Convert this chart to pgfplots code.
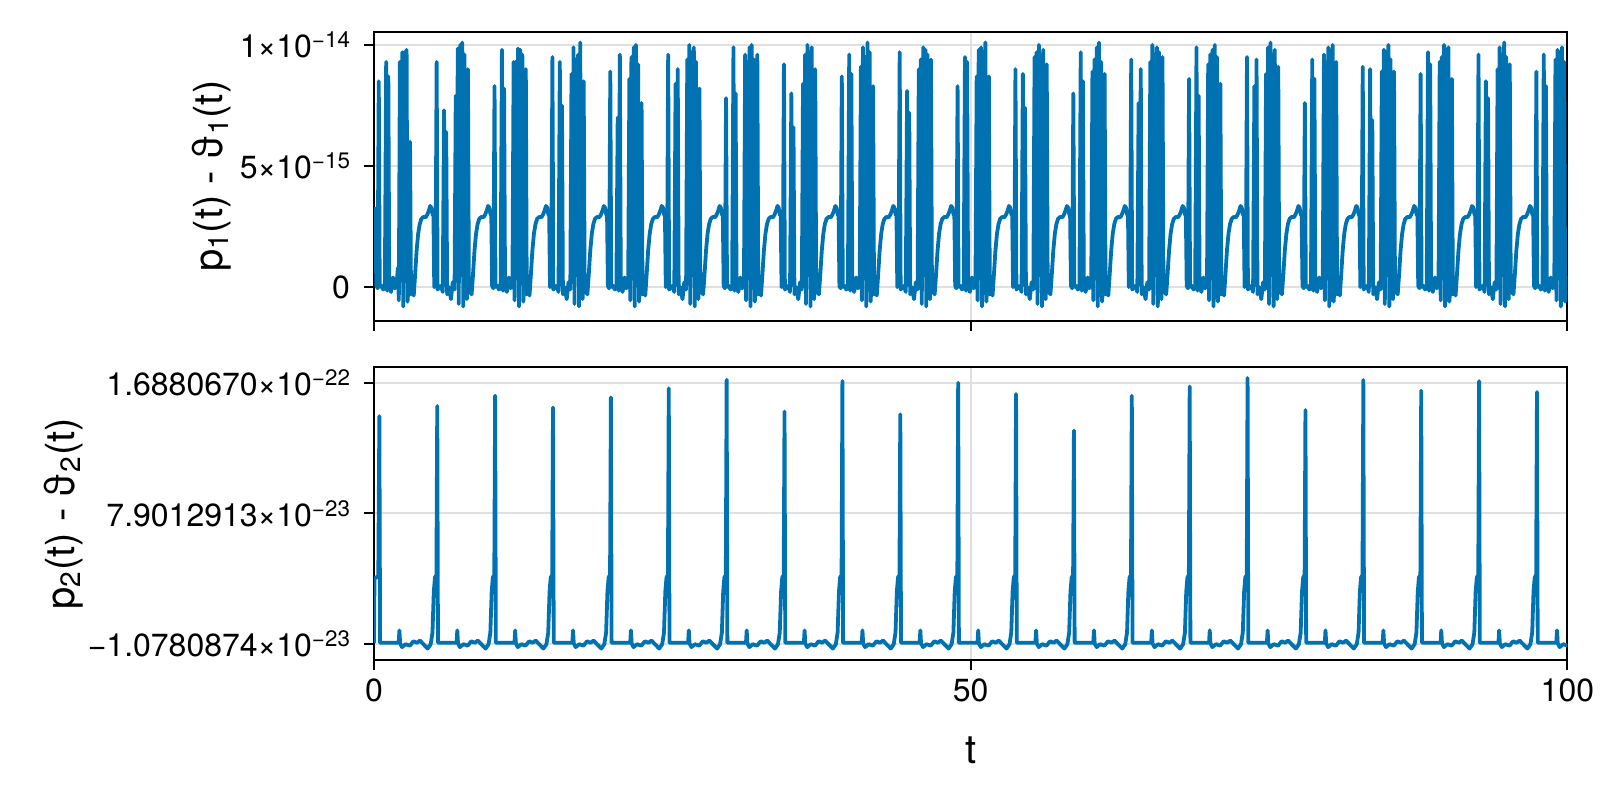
\documentclass[border=0pt]{standalone}
\usepackage{fontspec}
\setmainfont{TeX Gyre Heros}
\usepackage{pgfplots}
\pgfplotsset{compat=1.18}
\definecolor{mblue}{RGB}{0,114,178}
\newcommand{\sups}[1]{\raisebox{5bp}{\fontsize{11.2bp}{12bp}\selectfont #1}}
\begin{document}
\begin{tikzpicture}
\pgfplotsset{
  mystyle/.style={
    scale only axis, width=596.7bp, xmin=0, xmax=100, xtick={0,50,100},
    tick align=outside, xtick pos=bottom, ytick pos=left,
    major tick length=5bp, tick style={line width=1bp, black},
    axis line style={line width=1bp},
    grid=major, grid style={line width=1bp, black!12},
    ticklabel style={font=\fontsize{16bp}{19bp}\selectfont},
    xticklabel style={yshift=-1bp},
    yticklabel style={xshift=-3.5bp},
    anchor=south west,
  },
  myplot/.style={mblue, line width=1.9bp, no markers, line join=round},
}
\begin{axis}[mystyle, at={(187bp,239.5bp)}, height=144.7bp,
  ymin=-1.40, ymax=10.55, ytick={0,5,10},
  yticklabels={0,5×10\sups{−15},1×10\sups{−14}},
  xticklabels={},
  ylabel={p\textsubscript{1}(t) - ϑ\textsubscript{1}(t)},
  every axis y label/.style={at={(axis description cs:-0.136,0.5)}, rotate=90, anchor=center, font=\fontsize{20bp}{24bp}\selectfont}]
\addplot[myplot] coordinates {(0.00,3.3)(0.08,3.1)
(0.20,0.05)(0.30,-0.05)(0.40,8.5)(0.48,0)(0.63,0.05)(0.77,-0.1)(0.91,0)(1.02,9.3)(1.10,-0.15)(1.20,8.7)(1.28,0.05)(1.43,-0.2)(1.60,0.4)(1.75,-0.05)(1.90,0.1)(2.00,0.8)(2.08,-0.55)(2.17,9.3)(2.25,0.35)(2.37,9.7)(2.45,-0.8)(2.55,9.7)(2.63,0.7)(2.73,9.8)(2.81,-0.6)(2.93,0.4)(3.02,6.0)(3.10,-0.3)(3.21,-0.1)(3.33,-0.35)(3.45,0.55)(3.57,1.5)(3.70,2.2)(3.83,2.6)(3.97,2.82)(4.15,2.9)(4.33,2.88)(4.47,3.0)(4.59,3.15)(4.71,3.35)(4.81,3.28)(4.91,3.0)(4.98,2.95)
(5.05,0)(5.15,0.1)(5.25,9.3)(5.33,-0.1)(5.48,0)(5.62,0.05)(5.76,-0.2)(5.87,7.3)(5.95,0.1)(6.05,6.4)(6.13,-0.3)(6.28,0)(6.45,-0.5)(6.60,0.2)(6.75,-0.1)(6.85,7.9)(6.93,0.3)(7.02,9.85)(7.10,-0.7)(7.22,10.0)(7.30,0.5)(7.40,10.1)(7.48,-0.8)(7.58,9.6)(7.66,0.6)(7.78,-0.5)(7.87,9.0)(7.95,0.2)(8.06,-0.2)(8.18,-0.3)(8.30,0.55)(8.42,1.5)(8.55,2.2)(8.68,2.6)(8.82,2.82)(9.00,2.9)(9.18,2.88)(9.32,3.0)(9.44,3.15)(9.56,3.35)(9.66,3.28)(9.76,3.0)(9.83,2.95)
(9.90,0.05)(10.00,-0.05)(10.10,8.3)(10.18,0)(10.33,0.05)(10.47,-0.1)(10.61,0)(10.72,9.8)(10.80,-0.15)(10.90,8.2)(10.98,0.05)(11.13,-0.2)(11.30,0.4)(11.45,-0.05)(11.60,0.1)(11.70,9.3)(11.78,-0.55)(11.87,9.3)(11.95,0.35)(12.07,9.85)(12.15,-0.8)(12.25,9.8)(12.33,0.7)(12.43,9.6)(12.51,-0.6)(12.63,0.4)(12.72,9.0)(12.80,-0.3)(12.91,-0.1)(13.03,-0.35)(13.15,0.55)(13.27,1.5)(13.40,2.2)(13.53,2.6)(13.67,2.82)(13.85,2.9)(14.03,2.88)(14.17,3.0)(14.29,3.15)(14.41,3.35)(14.51,3.28)(14.61,3.0)(14.68,2.95)
(14.75,0)(14.85,0.1)(14.95,9.5)(15.03,-0.1)(15.18,0)(15.32,0.05)(15.46,-0.2)(15.57,9.3)(15.65,0.1)(15.75,7.5)(15.83,-0.3)(15.98,0)(16.15,-0.5)(16.30,0.2)(16.45,-0.1)(16.55,8.8)(16.63,0.3)(16.72,9.9)(16.80,-0.7)(16.92,9.4)(17.00,0.5)(17.10,9.6)(17.18,-0.8)(17.28,10.1)(17.36,0.6)(17.48,-0.5)(17.57,8.5)(17.65,0.2)(17.76,-0.2)(17.88,-0.3)(18.00,0.55)(18.12,1.5)(18.25,2.2)(18.38,2.6)(18.52,2.82)(18.70,2.9)(18.88,2.88)(19.02,3.0)(19.14,3.15)(19.26,3.35)(19.36,3.28)(19.46,3.0)(19.53,2.95)
(19.60,0.05)(19.70,-0.05)(19.80,8.9)(19.88,0)(20.03,0.05)(20.17,-0.1)(20.31,0)(20.42,7.0)(20.50,-0.15)(20.60,9.6)(20.68,0.05)(20.83,-0.2)(21.00,0.4)(21.15,-0.05)(21.30,0.1)(21.40,8.6)(21.48,-0.55)(21.57,9.5)(21.65,0.35)(21.77,9.9)(21.85,-0.8)(21.95,10.0)(22.03,0.7)(22.13,9.2)(22.21,-0.6)(22.33,0.4)(22.42,7.6)(22.50,-0.3)(22.61,-0.1)(22.73,-0.35)(22.85,0.55)(22.97,1.5)(23.10,2.2)(23.23,2.6)(23.37,2.82)(23.55,2.9)(23.73,2.88)(23.87,3.0)(23.99,3.15)(24.11,3.35)(24.21,3.28)(24.31,3.0)(24.38,2.95)
(24.45,0)(24.55,0.1)(24.65,9.6)(24.73,-0.1)(24.88,0)(25.02,0.05)(25.16,-0.2)(25.27,8.4)(25.35,0.1)(25.45,9.0)(25.53,-0.3)(25.68,0)(25.85,-0.5)(26.00,0.2)(26.15,-0.1)(26.25,9.4)(26.33,0.3)(26.42,10.0)(26.50,-0.7)(26.62,9.7)(26.70,0.5)(26.80,9.9)(26.88,-0.8)(26.98,9.3)(27.06,0.6)(27.18,-0.5)(27.27,8.2)(27.35,0.2)(27.46,-0.2)(27.58,-0.3)(27.70,0.55)(27.82,1.5)(27.95,2.2)(28.08,2.6)(28.22,2.82)(28.40,2.9)(28.58,2.88)(28.72,3.0)(28.84,3.15)(28.96,3.35)(29.06,3.28)(29.16,3.0)(29.23,2.95)
(29.30,0.05)(29.40,-0.05)(29.50,7.8)(29.58,0)(29.73,0.05)(29.87,-0.1)(30.01,0)(30.12,9.9)(30.20,-0.15)(30.30,8.0)(30.38,0.05)(30.53,-0.2)(30.70,0.4)(30.85,-0.05)(31.00,0.1)(31.10,9.6)(31.18,-0.55)(31.27,9.3)(31.35,0.35)(31.47,9.9)(31.55,-0.8)(31.65,10.0)(31.73,0.7)(31.83,9.4)(31.91,-0.6)(32.03,0.4)(32.12,9.6)(32.20,-0.3)(32.31,-0.1)(32.43,-0.35)(32.55,0.55)(32.67,1.5)(32.80,2.2)(32.93,2.6)(33.07,2.82)(33.25,2.9)(33.43,2.88)(33.57,3.0)(33.69,3.15)(33.81,3.35)(33.91,3.28)(34.01,3.0)(34.08,2.95)
(34.15,0)(34.25,0.1)(34.35,9.2)(34.43,-0.1)(34.58,0)(34.72,0.05)(34.86,-0.2)(34.97,8.0)(35.05,0.1)(35.15,6.6)(35.23,-0.3)(35.38,0)(35.55,-0.5)(35.70,0.2)(35.85,-0.1)(35.95,8.4)(36.03,0.3)(36.12,9.6)(36.20,-0.7)(36.32,10.0)(36.40,0.5)(36.50,9.7)(36.58,-0.8)(36.68,9.9)(36.76,0.6)(36.88,-0.5)(36.97,9.0)(37.05,0.2)(37.16,-0.2)(37.28,-0.3)(37.40,0.55)(37.52,1.5)(37.65,2.2)(37.78,2.6)(37.92,2.82)(38.10,2.9)(38.28,2.88)(38.42,3.0)(38.54,3.15)(38.66,3.35)(38.76,3.28)(38.86,3.0)(38.93,2.95)
(39.00,0.05)(39.10,-0.05)(39.20,8.7)(39.28,0)(39.43,0.05)(39.57,-0.1)(39.71,0)(39.82,9.6)(39.90,-0.15)(40.00,8.8)(40.08,0.05)(40.23,-0.2)(40.40,0.4)(40.55,-0.05)(40.70,0.1)(40.80,9.1)(40.88,-0.55)(40.97,9.9)(41.05,0.35)(41.17,9.5)(41.25,-0.8)(41.35,10.1)(41.43,0.7)(41.53,9.7)(41.61,-0.6)(41.73,0.4)(41.82,8.3)(41.90,-0.3)(42.01,-0.1)(42.13,-0.35)(42.25,0.55)(42.37,1.5)(42.50,2.2)(42.63,2.6)(42.77,2.82)(42.95,2.9)(43.13,2.88)(43.27,3.0)(43.39,3.15)(43.51,3.35)(43.61,3.28)(43.71,3.0)(43.78,2.95)
(43.85,0)(43.95,0.1)(44.05,9.7)(44.13,-0.1)(44.28,0)(44.42,0.05)(44.56,-0.2)(44.67,8.1)(44.75,0.1)(44.85,7.2)(44.93,-0.3)(45.08,0)(45.25,-0.5)(45.40,0.2)(45.55,-0.1)(45.65,9.0)(45.73,0.3)(45.82,9.4)(45.90,-0.7)(46.02,9.9)(46.10,0.5)(46.20,9.8)(46.28,-0.8)(46.38,9.6)(46.46,0.6)(46.58,-0.5)(46.67,9.4)(46.75,0.2)(46.86,-0.2)(46.98,-0.3)(47.10,0.55)(47.22,1.5)(47.35,2.2)(47.48,2.6)(47.62,2.82)(47.80,2.9)(47.98,2.88)(48.12,3.0)(48.24,3.15)(48.36,3.35)(48.46,3.28)(48.56,3.0)(48.63,2.95)
(48.70,0.05)(48.80,-0.05)(48.90,8.3)(48.98,0)(49.13,0.05)(49.27,-0.1)(49.41,0)(49.52,9.5)(49.60,-0.15)(49.70,9.3)(49.78,0.05)(49.93,-0.2)(50.10,0.4)(50.25,-0.05)(50.40,0.1)(50.50,8.7)(50.58,-0.55)(50.67,9.8)(50.75,0.35)(50.87,9.9)(50.95,-0.8)(51.05,9.7)(51.13,0.7)(51.23,10.1)(51.31,-0.6)(51.43,0.4)(51.52,8.7)(51.60,-0.3)(51.71,-0.1)(51.83,-0.35)(51.95,0.55)(52.07,1.5)(52.20,2.2)(52.33,2.6)(52.47,2.82)(52.65,2.9)(52.83,2.88)(52.97,3.0)(53.09,3.15)(53.21,3.35)(53.31,3.28)(53.41,3.0)(53.48,2.95)
(53.55,0)(53.65,0.1)(53.75,9.0)(53.83,-0.1)(53.98,0)(54.12,0.05)(54.26,-0.2)(54.37,8.8)(54.45,0.1)(54.55,7.4)(54.63,-0.3)(54.78,0)(54.95,-0.5)(55.10,0.2)(55.25,-0.1)(55.35,9.5)(55.43,0.3)(55.52,9.7)(55.60,-0.7)(55.72,10.0)(55.80,0.5)(55.90,9.6)(55.98,-0.8)(56.08,9.8)(56.16,0.6)(56.28,-0.5)(56.37,9.2)(56.45,0.2)(56.56,-0.2)(56.68,-0.3)(56.80,0.55)(56.92,1.5)(57.05,2.2)(57.18,2.6)(57.32,2.82)(57.50,2.9)(57.68,2.88)(57.82,3.0)(57.94,3.15)(58.06,3.35)(58.16,3.28)(58.26,3.0)(58.33,2.95)
(58.40,0.05)(58.50,-0.05)(58.60,8.0)(58.68,0)(58.83,0.05)(58.97,-0.1)(59.11,0)(59.22,9.7)(59.30,-0.15)(59.40,8.5)(59.48,0.05)(59.63,-0.2)(59.80,0.4)(59.95,-0.05)(60.10,0.1)(60.20,8.9)(60.28,-0.55)(60.37,9.4)(60.45,0.35)(60.57,9.9)(60.65,-0.8)(60.75,10.1)(60.83,0.7)(60.93,9.3)(61.01,-0.6)(61.13,0.4)(61.22,8.8)(61.30,-0.3)(61.41,-0.1)(61.53,-0.35)(61.65,0.55)(61.77,1.5)(61.90,2.2)(62.03,2.6)(62.17,2.82)(62.35,2.9)(62.53,2.88)(62.67,3.0)(62.79,3.15)(62.91,3.35)(63.01,3.28)(63.11,3.0)(63.18,2.95)
(63.25,0)(63.35,0.1)(63.45,9.4)(63.53,-0.1)(63.68,0)(63.82,0.05)(63.96,-0.2)(64.07,7.6)(64.15,0.1)(64.25,9.0)(64.33,-0.3)(64.48,0)(64.65,-0.5)(64.80,0.2)(64.95,-0.1)(65.05,9.3)(65.13,0.3)(65.22,10.0)(65.30,-0.7)(65.42,9.6)(65.50,0.5)(65.60,9.9)(65.68,-0.8)(65.78,9.7)(65.86,0.6)(65.98,-0.5)(66.07,9.5)(66.15,0.2)(66.26,-0.2)(66.38,-0.3)(66.50,0.55)(66.62,1.5)(66.75,2.2)(66.88,2.6)(67.02,2.82)(67.20,2.9)(67.38,2.88)(67.52,3.0)(67.64,3.15)(67.76,3.35)(67.86,3.28)(67.96,3.0)(68.03,2.95)
(68.10,0.05)(68.20,-0.05)(68.30,8.6)(68.38,0)(68.53,0.05)(68.67,-0.1)(68.81,0)(68.92,9.9)(69.00,-0.15)(69.10,7.9)(69.18,0.05)(69.33,-0.2)(69.50,0.4)(69.65,-0.05)(69.80,0.1)(69.90,9.2)(69.98,-0.55)(70.07,9.6)(70.15,0.35)(70.27,9.8)(70.35,-0.8)(70.45,10.0)(70.53,0.7)(70.63,9.5)(70.71,-0.6)(70.83,0.4)(70.92,8.4)(71.00,-0.3)(71.11,-0.1)(71.23,-0.35)(71.35,0.55)(71.47,1.5)(71.60,2.2)(71.73,2.6)(71.87,2.82)(72.05,2.9)(72.23,2.88)(72.37,3.0)(72.49,3.15)(72.61,3.35)(72.71,3.28)(72.81,3.0)(72.88,2.95)
(72.95,0)(73.05,0.1)(73.15,9.5)(73.23,-0.1)(73.38,0)(73.52,0.05)(73.66,-0.2)(73.77,8.3)(73.85,0.1)(73.95,9.4)(74.03,-0.3)(74.18,0)(74.35,-0.5)(74.50,0.2)(74.65,-0.1)(74.75,8.8)(74.83,0.3)(74.92,9.9)(75.00,-0.7)(75.12,10.1)(75.20,0.5)(75.30,9.6)(75.38,-0.8)(75.48,9.8)(75.56,0.6)(75.68,-0.5)(75.77,9.1)(75.85,0.2)(75.96,-0.2)(76.08,-0.3)(76.20,0.55)(76.32,1.5)(76.45,2.2)(76.58,2.6)(76.72,2.82)(76.90,2.9)(77.08,2.88)(77.22,3.0)(77.34,3.15)(77.46,3.35)(77.56,3.28)(77.66,3.0)(77.73,2.95)
(77.80,0.05)(77.90,-0.05)(78.00,7.6)(78.08,0)(78.23,0.05)(78.37,-0.1)(78.51,0)(78.62,9.4)(78.70,-0.15)(78.80,8.6)(78.88,0.05)(79.03,-0.2)(79.20,0.4)(79.35,-0.05)(79.50,0.1)(79.60,9.6)(79.68,-0.55)(79.77,9.3)(79.85,0.35)(79.97,9.9)(80.05,-0.8)(80.15,9.7)(80.23,0.7)(80.33,10.0)(80.41,-0.6)(80.53,0.4)(80.62,9.3)(80.70,-0.3)(80.81,-0.1)(80.93,-0.35)(81.05,0.55)(81.17,1.5)(81.30,2.2)(81.43,2.6)(81.57,2.82)(81.75,2.9)(81.93,2.88)(82.07,3.0)(82.19,3.15)(82.31,3.35)(82.41,3.28)(82.51,3.0)(82.58,2.95)
(82.65,0)(82.75,0.1)(82.85,9.1)(82.93,-0.1)(83.08,0)(83.22,0.05)(83.36,-0.2)(83.47,9.0)(83.55,0.1)(83.65,6.9)(83.73,-0.3)(83.88,0)(84.05,-0.5)(84.20,0.2)(84.35,-0.1)(84.45,8.9)(84.53,0.3)(84.62,9.8)(84.70,-0.7)(84.82,9.7)(84.90,0.5)(85.00,10.0)(85.08,-0.8)(85.18,9.4)(85.26,0.6)(85.38,-0.5)(85.47,8.9)(85.55,0.2)(85.66,-0.2)(85.78,-0.3)(85.90,0.55)(86.02,1.5)(86.15,2.2)(86.28,2.6)(86.42,2.82)(86.60,2.9)(86.78,2.88)(86.92,3.0)(87.04,3.15)(87.16,3.35)(87.26,3.28)(87.36,3.0)(87.43,2.95)
(87.50,0.05)(87.60,-0.05)(87.70,8.8)(87.78,0)(87.93,0.05)(88.07,-0.1)(88.21,0)(88.32,9.7)(88.40,-0.15)(88.50,9.2)(88.58,0.05)(88.73,-0.2)(88.90,0.4)(89.05,-0.05)(89.20,0.1)(89.30,9.3)(89.38,-0.55)(89.47,9.5)(89.55,0.35)(89.67,10.0)(89.75,-0.8)(89.85,9.8)(89.93,0.7)(90.03,9.9)(90.11,-0.6)(90.23,0.4)(90.32,8.6)(90.40,-0.3)(90.51,-0.1)(90.63,-0.35)(90.75,0.55)(90.87,1.5)(91.00,2.2)(91.13,2.6)(91.27,2.82)(91.45,2.9)(91.63,2.88)(91.77,3.0)(91.89,3.15)(92.01,3.35)(92.11,3.28)(92.21,3.0)(92.28,2.95)
(92.35,0)(92.45,0.1)(92.55,9.6)(92.63,-0.1)(92.78,0)(92.92,0.05)(93.06,-0.2)(93.17,8.5)(93.25,0.1)(93.35,7.8)(93.43,-0.3)(93.58,0)(93.75,-0.5)(93.90,0.2)(94.05,-0.1)(94.15,9.0)(94.23,0.3)(94.32,9.9)(94.40,-0.7)(94.52,9.6)(94.60,0.5)(94.70,10.1)(94.78,-0.8)(94.88,9.5)(94.96,0.6)(95.08,-0.5)(95.17,9.2)(95.25,0.2)(95.36,-0.2)(95.48,-0.3)(95.60,0.55)(95.72,1.5)(95.85,2.2)(95.98,2.6)(96.12,2.82)(96.30,2.9)(96.48,2.88)(96.62,3.0)(96.74,3.15)(96.86,3.35)(96.96,3.28)(97.06,3.0)(97.13,2.95)
(97.20,0.05)(97.30,-0.05)(97.40,8.9)(97.48,0)(97.63,0.05)(97.77,-0.1)(97.91,0)(98.02,9.6)(98.10,-0.15)(98.20,8.3)(98.28,0.05)(98.43,-0.2)(98.60,0.4)(98.75,-0.05)(98.90,0.1)(99.00,9.4)(99.08,-0.55)(99.17,9.8)(99.25,0.35)(99.37,9.7)(99.45,-0.8)(99.55,9.9)(99.63,0.7)(99.73,9.3)(99.81,-0.6)(99.93,0.4)(100.00,0.1)};
\end{axis}
\begin{axis}[mystyle, at={(187bp,69.9bp)}, height=146.4bp,
  ymin=-2.20, ymax=17.94, ytick={-1.0780874,7.9012913,16.880670},
  yticklabels={−1.0780874×10\sups{−23},7.9012913×10\sups{−23},1.6880670×10\sups{−22}},
  xticklabels={0,50,100},
  xlabel={t}, ylabel={p\textsubscript{2}(t) - ϑ\textsubscript{2}(t)},
  every axis x label/.style={at={(axis description cs:0.5,-0.307)}, anchor=center, font=\fontsize{20bp}{24bp}\selectfont},
  every axis y label/.style={at={(axis description cs:-0.2603,0.5)}, rotate=90, anchor=center, font=\fontsize{20bp}{24bp}\selectfont}]
\addplot[myplot] coordinates {(0.00,-1.0)(0.04,3.4)(0.36,3.6)
(0.45,14.59)(0.51,-1.0)(2.07,-1.0)(2.13,-0.15)(2.19,-1.05)(2.35,-1.3)(2.65,-1.1)(3.00,-1.2)(3.30,-0.9)(3.60,-1.0)(3.85,-0.85)(4.20,-1.15)(4.50,-1.4)(4.75,-1.1)(4.90,-0.3)(5.01,2.5)(5.11,3.5)(5.23,3.65)
(5.30,15.29)(5.36,-1.0)(6.92,-1.0)(6.98,-0.15)(7.04,-1.05)(7.20,-1.3)(7.50,-1.1)(7.85,-1.2)(8.15,-0.9)(8.45,-1.0)(8.70,-0.85)(9.05,-1.15)(9.35,-1.4)(9.60,-1.1)(9.75,-0.3)(9.86,2.5)(9.96,3.5)(10.08,3.65)
(10.15,15.99)(10.21,-1.0)(11.77,-1.0)(11.83,-0.15)(11.89,-1.05)(12.05,-1.3)(12.35,-1.1)(12.70,-1.2)(13.00,-0.9)(13.30,-1.0)(13.55,-0.85)(13.90,-1.15)(14.20,-1.4)(14.45,-1.1)(14.60,-0.3)(14.71,2.5)(14.81,3.5)(14.93,3.65)
(15.00,15.18)(15.06,-1.0)(16.62,-1.0)(16.68,-0.15)(16.74,-1.05)(16.90,-1.3)(17.20,-1.1)(17.55,-1.2)(17.85,-0.9)(18.15,-1.0)(18.40,-0.85)(18.75,-1.15)(19.05,-1.4)(19.30,-1.1)(19.45,-0.3)(19.56,2.5)(19.66,3.5)(19.78,3.65)
(19.85,15.88)(19.91,-1.0)(21.47,-1.0)(21.53,-0.15)(21.59,-1.05)(21.75,-1.3)(22.05,-1.1)(22.40,-1.2)(22.70,-0.9)(23.00,-1.0)(23.25,-0.85)(23.60,-1.15)(23.90,-1.4)(24.15,-1.1)(24.30,-0.3)(24.41,2.5)(24.51,3.5)(24.63,3.65)
(24.70,16.51)(24.76,-1.0)(26.32,-1.0)(26.38,-0.15)(26.44,-1.05)(26.60,-1.3)(26.90,-1.1)(27.25,-1.2)(27.55,-0.9)(27.85,-1.0)(28.10,-0.85)(28.45,-1.15)(28.75,-1.4)(29.00,-1.1)(29.15,-0.3)(29.26,2.5)(29.36,3.5)(29.48,3.65)
(29.55,17.09)(29.61,-1.0)(31.17,-1.0)(31.23,-0.15)(31.29,-1.05)(31.45,-1.3)(31.75,-1.1)(32.10,-1.2)(32.40,-0.9)(32.70,-1.0)(32.95,-0.85)(33.30,-1.15)(33.60,-1.4)(33.85,-1.1)(34.00,-0.3)(34.11,2.5)(34.21,3.5)(34.33,3.65)
(34.40,14.90)(34.46,-1.0)(36.02,-1.0)(36.08,-0.15)(36.14,-1.05)(36.30,-1.3)(36.60,-1.1)(36.95,-1.2)(37.25,-0.9)(37.55,-1.0)(37.80,-0.85)(38.15,-1.15)(38.45,-1.4)(38.70,-1.1)(38.85,-0.3)(38.96,2.5)(39.06,3.5)(39.18,3.65)
(39.25,17.00)(39.31,-1.0)(40.87,-1.0)(40.93,-0.15)(40.99,-1.05)(41.15,-1.3)(41.45,-1.1)(41.80,-1.2)(42.10,-0.9)(42.40,-1.0)(42.65,-0.85)(43.00,-1.15)(43.30,-1.4)(43.55,-1.1)(43.70,-0.3)(43.81,2.5)(43.91,3.5)(44.03,3.65)
(44.10,14.71)(44.16,-1.0)(45.72,-1.0)(45.78,-0.15)(45.84,-1.05)(46.00,-1.3)(46.30,-1.1)(46.65,-1.2)(46.95,-0.9)(47.25,-1.0)(47.50,-0.85)(47.85,-1.15)(48.15,-1.4)(48.40,-1.1)(48.55,-0.3)(48.66,2.5)(48.76,3.5)(48.88,3.65)
(48.95,16.88)(49.01,-1.0)(50.57,-1.0)(50.63,-0.15)(50.69,-1.05)(50.85,-1.3)(51.15,-1.1)(51.50,-1.2)(51.80,-0.9)(52.10,-1.0)(52.35,-0.85)(52.70,-1.15)(53.00,-1.4)(53.25,-1.1)(53.40,-0.3)(53.51,2.5)(53.61,3.5)(53.73,3.65)
(53.80,16.11)(53.86,-1.0)(55.42,-1.0)(55.48,-0.15)(55.54,-1.05)(55.70,-1.3)(56.00,-1.1)(56.35,-1.2)(56.65,-0.9)(56.95,-1.0)(57.20,-0.85)(57.55,-1.15)(57.85,-1.4)(58.10,-1.1)(58.25,-0.3)(58.36,2.5)(58.46,3.5)(58.58,3.65)
(58.65,13.60)(58.71,-1.0)(60.27,-1.0)(60.33,-0.15)(60.39,-1.05)(60.55,-1.3)(60.85,-1.1)(61.20,-1.2)(61.50,-0.9)(61.80,-1.0)(62.05,-0.85)(62.40,-1.15)(62.70,-1.4)(62.95,-1.1)(63.10,-0.3)(63.21,2.5)(63.31,3.5)(63.43,3.65)
(63.50,15.99)(63.56,-1.0)(65.12,-1.0)(65.18,-0.15)(65.24,-1.05)(65.40,-1.3)(65.70,-1.1)(66.05,-1.2)(66.35,-0.9)(66.65,-1.0)(66.90,-0.85)(67.25,-1.15)(67.55,-1.4)(67.80,-1.1)(67.95,-0.3)(68.06,2.5)(68.16,3.5)(68.28,3.65)
(68.35,16.62)(68.41,-1.0)(69.97,-1.0)(70.03,-0.15)(70.09,-1.05)(70.25,-1.3)(70.55,-1.1)(70.90,-1.2)(71.20,-0.9)(71.50,-1.0)(71.75,-0.85)(72.10,-1.15)(72.40,-1.4)(72.65,-1.1)(72.80,-0.3)(72.91,2.5)(73.01,3.5)(73.13,3.65)
(73.20,17.21)(73.26,-1.0)(74.82,-1.0)(74.88,-0.15)(74.94,-1.05)(75.10,-1.3)(75.40,-1.1)(75.75,-1.2)(76.05,-0.9)(76.35,-1.0)(76.60,-0.85)(76.95,-1.15)(77.25,-1.4)(77.50,-1.1)(77.65,-0.3)(77.76,2.5)(77.86,3.5)(77.98,3.65)
(78.05,15.01)(78.11,-1.0)(79.67,-1.0)(79.73,-0.15)(79.79,-1.05)(79.95,-1.3)(80.25,-1.1)(80.60,-1.2)(80.90,-0.9)(81.20,-1.0)(81.45,-0.85)(81.80,-1.15)(82.10,-1.4)(82.35,-1.1)(82.50,-0.3)(82.61,2.5)(82.71,3.5)(82.83,3.65)
(82.90,17.07)(82.96,-1.0)(84.52,-1.0)(84.58,-0.15)(84.64,-1.05)(84.80,-1.3)(85.10,-1.1)(85.45,-1.2)(85.75,-0.9)(86.05,-1.0)(86.30,-0.85)(86.65,-1.15)(86.95,-1.4)(87.20,-1.1)(87.35,-0.3)(87.46,2.5)(87.56,3.5)(87.68,3.65)
(87.75,16.34)(87.81,-1.0)(89.37,-1.0)(89.43,-0.15)(89.49,-1.05)(89.65,-1.3)(89.95,-1.1)(90.30,-1.2)(90.60,-0.9)(90.90,-1.0)(91.15,-0.85)(91.50,-1.15)(91.80,-1.4)(92.05,-1.1)(92.20,-0.3)(92.31,2.5)(92.41,3.5)(92.53,3.65)
(92.60,17.00)(92.66,-1.0)(94.22,-1.0)(94.28,-0.15)(94.34,-1.05)(94.50,-1.3)(94.80,-1.1)(95.15,-1.2)(95.45,-0.9)(95.75,-1.0)(96.00,-0.85)(96.35,-1.15)(96.65,-1.4)(96.90,-1.1)(97.05,-0.3)(97.16,2.5)(97.26,3.5)(97.38,3.65)
(97.45,16.25)(97.51,-1.0)(99.07,-1.0)(99.13,-0.15)(99.19,-1.05)(99.35,-1.3)(99.65,-1.1)(100.00,-1.2)};
\end{axis}
\pgfresetboundingbox
\useasboundingbox (0,0) rectangle (800bp,400bp);
\end{tikzpicture}
\end{document}
